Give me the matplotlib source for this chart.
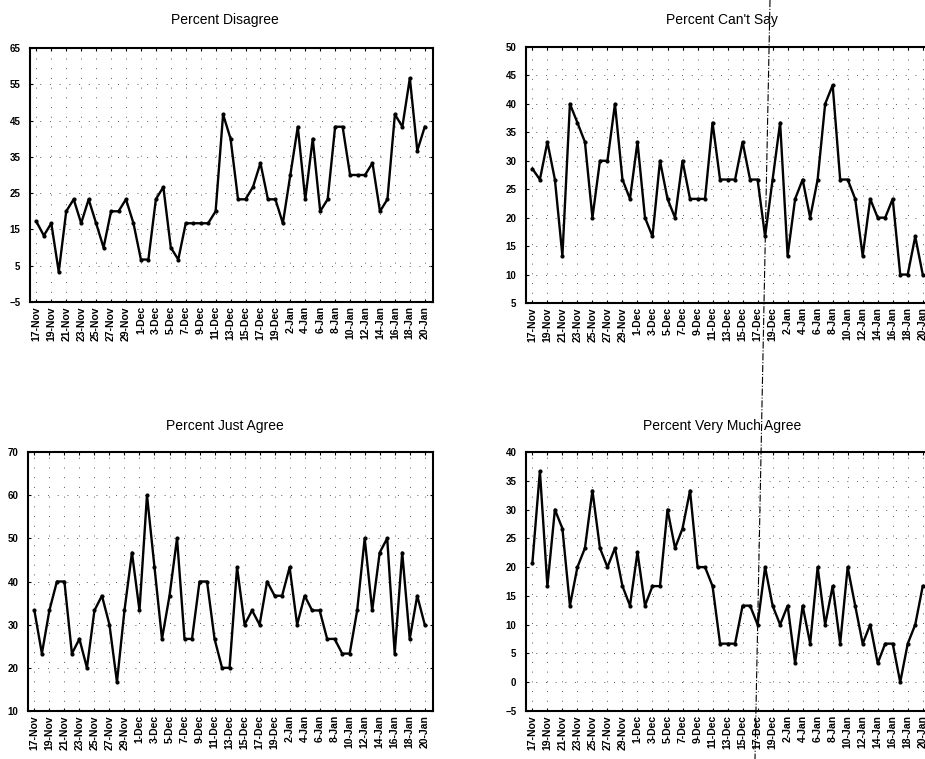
import matplotlib
matplotlib.use("Agg")
import matplotlib.pyplot as plt
from matplotlib.lines import Line2D

plt.rcParams['font.family'] = ['Liberation Sans', 'DejaVu Sans']

# Survey dates (one point per day, holiday gap in late December)
dates = ['17-Nov', '18-Nov', '19-Nov', '20-Nov', '21-Nov', '22-Nov', '23-Nov',
         '24-Nov', '25-Nov', '26-Nov', '27-Nov', '28-Nov', '29-Nov', '30-Nov',
         '1-Dec', '2-Dec', '3-Dec', '4-Dec', '5-Dec', '6-Dec', '7-Dec',
         '8-Dec', '9-Dec', '10-Dec', '11-Dec', '12-Dec', '13-Dec', '14-Dec',
         '15-Dec', '16-Dec', '17-Dec', '18-Dec', '19-Dec', '1-Jan', '2-Jan',
         '3-Jan', '4-Jan', '5-Jan', '6-Jan', '7-Jan', '8-Jan', '9-Jan',
         '10-Jan', '11-Jan', '12-Jan', '13-Jan', '14-Jan', '15-Jan', '16-Jan',
         '17-Jan', '18-Jan', '19-Jan', '20-Jan']

disagree = [17.2, 13.3, 16.7, 3.3, 20, 23.3, 16.7, 23.3, 16.7, 10,
            20, 20, 23.3, 16.7, 6.7, 6.7, 23.3, 26.7, 10, 6.7,
            16.7, 16.7, 16.7, 16.7, 20, 46.7, 40, 23.3, 23.3, 26.7,
            33.3, 23.3, 23.3, 16.7, 30, 43.3, 23.3, 40, 20, 23.3,
            43.3, 43.3, 30, 30, 30, 33.3, 20, 23.3, 46.7, 43.3,
            56.7, 36.7, 43.3]

cant_say = [28.6, 26.7, 33.3, 26.7, 13.3, 40, 36.7, 33.3, 20, 30,
            30, 40, 26.7, 23.3, 33.3, 20, 16.7, 30, 23.3, 20,
            30, 23.3, 23.3, 23.3, 36.7, 26.7, 26.7, 26.7, 33.3, 26.7,
            26.7, 16.7, 26.7, 36.7, 13.3, 23.3, 26.7, 20, 26.7, 40,
            43.3, 26.7, 26.7, 23.3, 13.3, 23.3, 20, 20, 23.3, 10,
            10, 16.7, 10]

just_agree = [33.3, 23.3, 33.3, 40, 40, 23.3, 26.7, 20, 33.3, 36.7,
              30, 16.7, 33.3, 46.7, 33.3, 60, 43.3, 26.7, 36.7, 50,
              26.7, 26.7, 40, 40, 26.7, 20, 20, 43.3, 30, 33.3,
              30, 40, 36.7, 36.7, 43.3, 30, 36.7, 33.3, 33.3, 26.7,
              26.7, 23.3, 23.3, 33.3, 50, 33.3, 46.7, 50, 23.3, 46.7,
              26.7, 36.7, 30]

very_much = [20.7, 36.7, 16.7, 30, 26.7, 13.3, 20, 23.3, 33.3, 23.3,
             20, 23.3, 16.7, 13.3, 22.6, 13.3, 16.7, 16.7, 30, 23.3,
             26.7, 33.3, 20, 20, 16.7, 6.7, 6.7, 6.7, 13.3, 13.3,
             10, 20, 13.3, 10, 13.3, 3.3, 13.3, 6.7, 20, 10,
             16.7, 6.7, 20, 13.3, 6.7, 10, 3.3, 6.7, 6.7, 0,
             6.7, 10, 16.7]

W, H = 925, 759
fig = plt.figure(figsize=(W / 100, H / 100), dpi=100)


def px_axes(left, top, right, bottom):
    # axes placed by pixel box (right column runs past the page edge)
    return fig.add_axes([left / W, 1 - bottom / H, (right - left) / W, (bottom - top) / H])


panels = [
    (disagree, 'Percent Disagree', (30, 48, 433, 302), (-5, 65), 10, (225, 20)),
    (cant_say, "Percent Can't Say", (526, 47, 931, 303), (5, 50), 5, (722, 20)),
    (just_agree, 'Percent Just Agree', (28, 452, 433, 711), (10, 70), 10, (225, 426)),
    (very_much, 'Percent Very Much Agree', (526, 452, 931, 711), (-5, 40), 5, (722, 426)),
]

x = list(range(len(dates)))

for vals, title, box, ylim, ystep, tpos in panels:
    ax = px_axes(*box)
    ax.plot(x, vals, color='black', lw=1.7, marker='.', ms=4, zorder=3)
    ax.set_xlim(-0.85, 53.1)
    ax.set_ylim(*ylim)
    ax.set_yticks(range(ylim[0], ylim[1] + 1, ystep))
    ax.set_xticks(x[::2])
    ax.set_xticklabels(dates[::2], rotation=90)
    ax.tick_params(labelsize=7, direction='in', length=2, width=0.8,
                   top=True, right=True, pad=3)
    ax.tick_params(axis='x', labelsize=7.5)
    ax.tick_params(axis='y', pad=7)
    plt.setp(ax.get_xticklabels() + ax.get_yticklabels(), fontweight='bold')
    ax.grid(True, linestyle=(0, (1, 9)), color='0.35', lw=0.7)
    for sp in ax.spines.values():
        sp.set_linewidth(1.5)
    fig.text(tpos[0] / W, 1 - tpos[1] / H, title, ha='center', va='center', fontsize=10)

# scanning artefact: faint dash-dot vertical line through the right panels
fig.add_artist(Line2D([770 / W, 755 / W], [1.0, 0.0], transform=fig.transFigure,
                      color='black', lw=0.8, linestyle='-.'))

fig.savefig('out.png', dpi=100)
